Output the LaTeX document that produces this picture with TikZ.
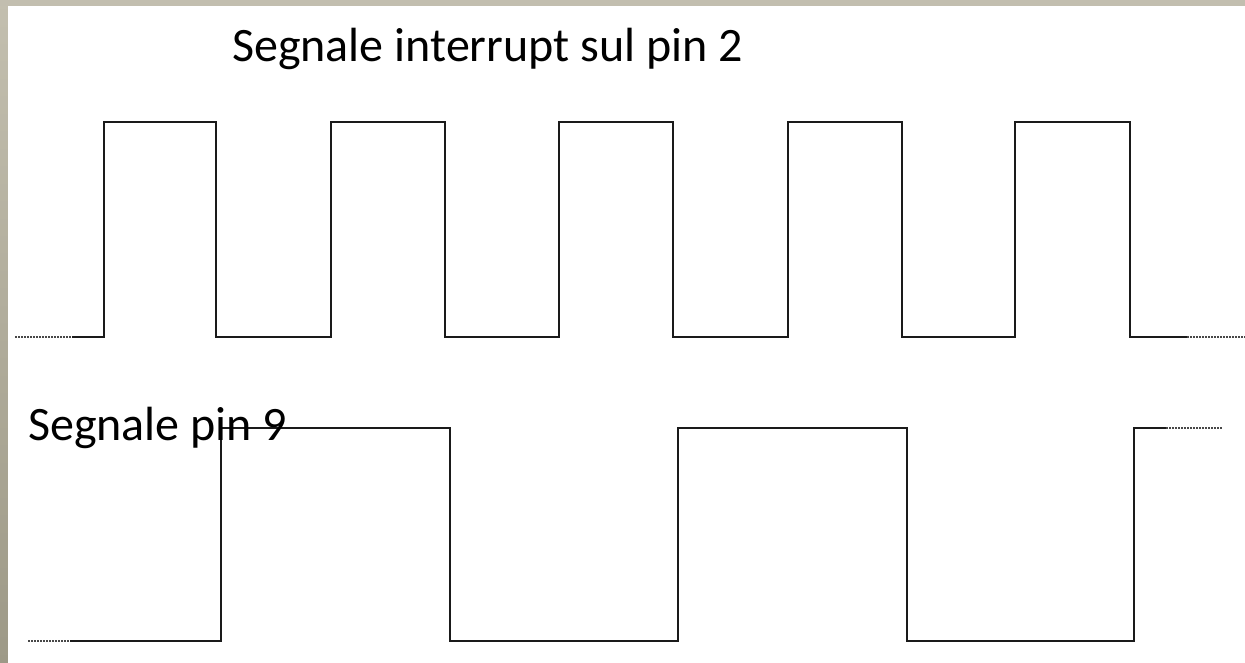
\documentclass[tikz,border=0pt]{standalone}
\usepackage{fontspec}
\setmainfont{Carlito}
\definecolor{frameA}{HTML}{C3BFAF}
\definecolor{frameB}{HTML}{9D9987}
\definecolor{frameTop}{HTML}{C2BEAF}
\definecolor{wave}{HTML}{1A1A1A}
\begin{document}
\begin{tikzpicture}[x=1pt,y=-1pt,
  sig/.style={draw=wave,line width=1.6pt,line join=miter},
  dots/.style={draw=wave!80,line width=1.6pt,dash pattern=on 1.5pt off 1.5pt},
  lbl/.style={font=\fontsize{48}{58}\selectfont,inner sep=0pt,anchor=base west}]
\useasboundingbox (0,0) rectangle (1245,663);
\shade[top color=frameA,bottom color=frameB] (0,0) rectangle (1245,663);
\fill[frameTop] (0,0) rectangle (1245,6);
\fill[white] (8,6) rectangle (1245,663);
% top signal
\coordinate (a0) at (15,337);
\coordinate (a1) at (72,337);
\coordinate (a2) at (1187,337);
\coordinate (a3) at (1245,337);
\draw[dots] (a0) -- (a1);
\draw[sig] (a1) -- (104,337) -- (104,122) -- (216,122) -- (216,337)
  -- (331,337) -- (331,122) -- (445,122) -- (445,337)
  -- (559,337) -- (559,122) -- (673,122) -- (673,337)
  -- (788,337) -- (788,122) -- (902,122) -- (902,337)
  -- (1015,337) -- (1015,122) -- (1130,122) -- (1130,337) -- (a2);
\draw[dots] (a2) -- (a3);
% bottom signal
\coordinate (b0) at (28,641);
\coordinate (b1) at (70,641);
\coordinate (b2) at (1166,428);
\coordinate (b3) at (1222,428);
\draw[dots] (b0) -- (b1);
\draw[sig] (b1) -- (221,641) -- (221,428) -- (450,428) -- (450,641)
  -- (678,641) -- (678,428) -- (907,428) -- (907,641)
  -- (1134,641) -- (1134,428) -- (b2);
\draw[dots] (b2) -- (b3);
% labels
\node[lbl] (t1) at (232,62) {Segnale interrupt sul pin 2};
\node[lbl] (t2) at (28,440) {Segnale pin 9};
\end{tikzpicture}
\end{document}
